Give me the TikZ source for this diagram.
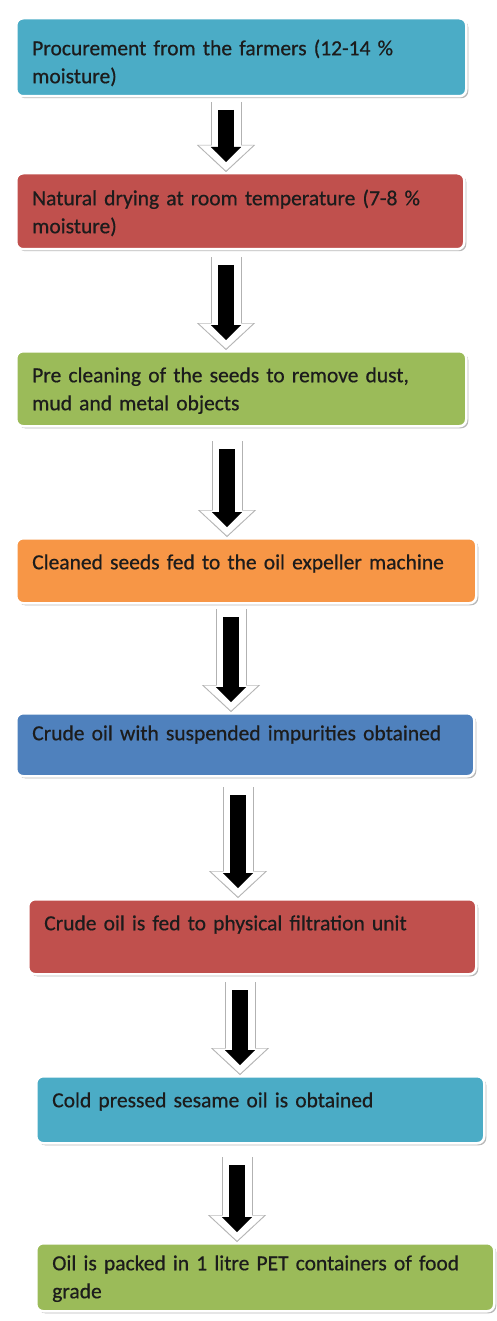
\documentclass[tikz,border=0pt]{standalone}
\usepackage{fontspec}
\setmainfont{Carlito}
\newfontfamily\stepfont{Carlito}[FakeBold=0.6]
\usetikzlibrary{arrows.meta,shadows}

\definecolor{cyanbox}{RGB}{75,172,198}
\definecolor{redbox}{RGB}{192,80,77}
\definecolor{greenbox}{RGB}{155,187,89}
\definecolor{orangebox}{RGB}{247,150,70}
\definecolor{bluebox}{RGB}{79,129,189}
\definecolor{steptext}{RGB}{28,28,28}

\tikzset{every picture/.style={line width=0.75pt}}
\tikzset{
  stepbox/.style={draw=white, line width=2.5pt, rounded corners=7pt, anchor=north west,
    inner xsep=16pt, inner ysep=0pt, align=left, text=steptext,
    font=\stepfont\fontsize{21.5}{28}\selectfont, text height=31pt,
    drop shadow={shadow xshift=2pt, shadow yshift=-2pt, fill=black!55, opacity=0.5}},
  flowarrow/.style={draw=black, line width=16pt, shorten >=10pt,
    -{Triangle[width=30pt,length=15pt,line width=0.1pt]},
    preaction={draw=black!30, line width=31pt, shorten <=-8pt, shorten >=0pt,
      -{Triangle[width=58pt,length=27pt,line width=0.1pt]}},
    preaction={draw=white, line width=29pt, shorten <=-8pt, shorten >=1.5pt,
      -{Triangle[width=54pt,length=25pt,line width=0.1pt]}}}
}

\begin{document}
\begin{tikzpicture}[x=1pt,y=1pt,yscale=-1,xscale=1]
\useasboundingbox (0,0) rectangle (496,1321);

% Boxes
\node [stepbox, fill=cyanbox, text width=418pt, text height=37pt, text depth=41pt] (b1) at (15,17)
  {Procurement from the farmers (12-14 \%\\ moisture)};
\node [stepbox, fill=redbox, text width=416pt, text height=32pt, text depth=44pt] (b2) at (15,172)
  {Natural drying at room temperature (7-8 \%\\ moisture)};
\node [stepbox, fill=greenbox, text width=418pt, text depth=44pt] (b3) at (15,350)
  {Pre cleaning of the seeds to remove dust,\\ mud and metal objects};
\node [stepbox, fill=orangebox, text width=428pt, text depth=34pt] (b4) at (15,537)
  {Cleaned seeds fed to the oil expeller machine};
\node [stepbox, fill=bluebox, text width=426pt, text height=27pt, text depth=36pt] (b5) at (15,712)
  {Crude oil with suspended impurities obtained};
\node [stepbox, fill=redbox, text width=416pt, text depth=44pt] (b6) at (27,898)
  {Crude oil is fed to physical filtration unit};
\node [stepbox, fill=cyanbox, text width=416pt, text depth=36pt] (b7) at (35,1075)
  {Cold pressed sesame oil is obtained};
\node [stepbox, fill=greenbox, text width=426pt, text height=27pt, text depth=41pt] (b8) at (35,1242)
  {Oil is packed in 1 litre PET containers of food\\ grade};

% Arrow starts
\coordinate (a1) at (226,110);
\coordinate (a2) at (226,265);
\coordinate (a3) at (227,449);
\coordinate (a4) at (231,617);
\coordinate (a5) at (238,795);
\coordinate (a6) at (240,990);
\coordinate (a7) at (237,1165);

% Arrows
\draw [flowarrow] (a1) -- (a1 |- b2.north);
\draw [flowarrow] (a2) -- (a2 |- b3.north);
\draw [flowarrow] (a3) -- (a3 |- b4.north);
\draw [flowarrow] (a4) -- (a4 |- b5.north);
\draw [flowarrow] (a5) -- (a5 |- b6.north);
\draw [flowarrow] (a6) -- (a6 |- b7.north);
\draw [flowarrow] (a7) -- (a7 |- b8.north);
\end{tikzpicture}
\end{document}
